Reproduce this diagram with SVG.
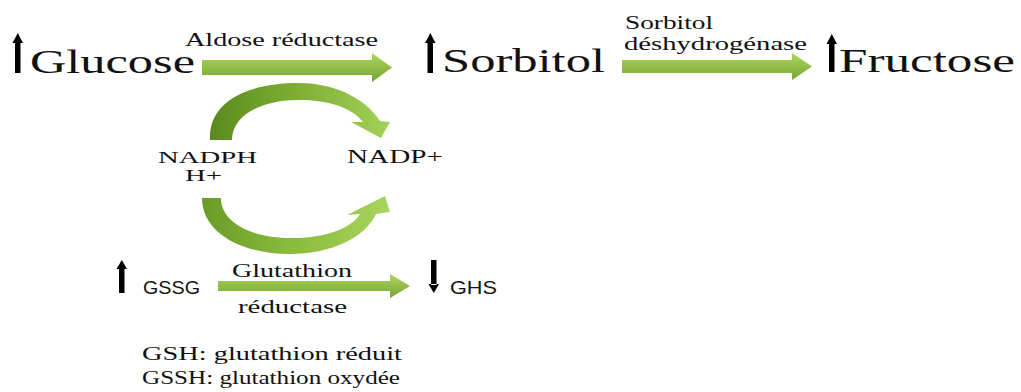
<svg xmlns="http://www.w3.org/2000/svg" width="1021" height="392" viewBox="0 0 1021 392">
<defs>
<linearGradient id="gArrow" x1="0" y1="0" x2="0" y2="1">
<stop offset="0" stop-color="#add65f"/>
<stop offset="1" stop-color="#77a531"/>
</linearGradient>
<linearGradient id="gTop" x1="0" y1="0" x2="1" y2="0">
<stop offset="0" stop-color="#5a8a1f"/>
<stop offset="0.5" stop-color="#7fb034"/>
<stop offset="1" stop-color="#a3d158"/>
</linearGradient>
<linearGradient id="gBot" x1="0" y1="0" x2="1" y2="0">
<stop offset="0" stop-color="#6a9c28"/>
<stop offset="0.5" stop-color="#8bbd3d"/>
<stop offset="1" stop-color="#a8d55d"/>
</linearGradient>
</defs>
<style>
.big{font-family:"Liberation Serif","Times New Roman",serif;font-size:34px;fill:#111}
.lab{font-family:"Liberation Serif","Times New Roman",serif;font-size:19px;fill:#111}
.sm{font-family:"Liberation Serif","Times New Roman",serif;font-size:16px;fill:#111}
.sans{font-family:"Liberation Sans",Arial,sans-serif;font-size:18px;fill:#111}
.up{fill:#000}
</style>
<rect width="1021" height="392" fill="#fff"/>

<g id="connectors">
<path d="M202 60 H372 V53 L392 67.5 L372 82 V75 H202 Z" fill="url(#gArrow)"/>
<path d="M622 60 H792 V53 L812 66.5 L792 80 V73 H622 Z" fill="url(#gArrow)"/>
<path d="M218 281 H390 V274 L410 286 L390 298 V291 H218 Z" fill="url(#gArrow)"/>
<path d="M210 140 C208 100 250 83 298 83 C340 83 368 102 380 121 L390 122 L381 138 L351 122 L363 122 C352 108 330 100 298 100 C262 100 232 115 232 140 Z" fill="url(#gTop)"/>
<path d="M202 198 C202 232 240 254 290 254 C330 254 365 238 376 214 L390 212 L385 196 L347 215 L360 214 C350 230 322 238 292 238 C250 238 221 222 221 198 Z" fill="url(#gBot)"/>
</g>

<g id="glucose">
<path class="up" d="M15 42 H20.5 V73 H15 Z M12.5 43 L17.8 33 L23 43 Z"/>
<text class="big" x="30" y="73" textLength="165" lengthAdjust="spacingAndGlyphs">Glucose</text>
</g>
<g id="aldose">
<text class="lab" x="185" y="46" font-size="20" textLength="193" lengthAdjust="spacingAndGlyphs">Aldose réductase</text>
</g>
<g id="sorbitol">
<path class="up" d="M427.5 42 H433 V73 H427.5 Z M425 43 L430.3 33 L435.5 43 Z"/>
<text class="big" x="442" y="72" textLength="163" lengthAdjust="spacingAndGlyphs">Sorbitol</text>
</g>
<g id="sdh">
<text class="lab" x="625" y="29" textLength="88" lengthAdjust="spacingAndGlyphs">Sorbitol</text>
<text class="lab" x="624" y="50" textLength="183" lengthAdjust="spacingAndGlyphs">déshydrogénase</text>
</g>
<g id="fructose">
<path class="up" d="M829 43 H834.5 V72 H829 Z M826.5 44 L831.8 34 L837 44 Z"/>
<text class="big" x="839" y="72" textLength="176" lengthAdjust="spacingAndGlyphs">Fructose</text>
</g>
<g id="nadph">
<text class="sm" x="158" y="163" textLength="99" lengthAdjust="spacingAndGlyphs">NADPH</text>
<text class="sm" x="185" y="181" textLength="37" lengthAdjust="spacingAndGlyphs">H+</text>
</g>
<g id="nadp">
<text class="lab" x="347" y="163" textLength="96" lengthAdjust="spacingAndGlyphs">NADP+</text>
</g>
<g id="gssg">
<path class="up" d="M119 268 H124.5 V293 H119 Z M116.5 269 L121.8 260 L127 269 Z"/>
<text class="sans" x="143" y="294" textLength="57" lengthAdjust="spacingAndGlyphs">GSSG</text>
</g>
<g id="gr">
<text class="lab" x="232" y="277" textLength="120" lengthAdjust="spacingAndGlyphs">Glutathion</text>
<text class="lab" x="238" y="313" textLength="109" lengthAdjust="spacingAndGlyphs">réductase</text>
</g>
<g id="ghs">
<path class="up" d="M431 260 H436.5 V285 H431 Z M428.5 284 L433.8 293 L439 284 Z"/>
<text class="sans" x="450" y="294" textLength="47" lengthAdjust="spacingAndGlyphs">GHS</text>
</g>
<g id="legend">
<text class="lab" x="142" y="360" textLength="260" lengthAdjust="spacingAndGlyphs">GSH: glutathion réduit</text>
<text class="lab" x="142" y="384" textLength="258" lengthAdjust="spacingAndGlyphs">GSSH: glutathion oxydée</text>
</g>
</svg>
